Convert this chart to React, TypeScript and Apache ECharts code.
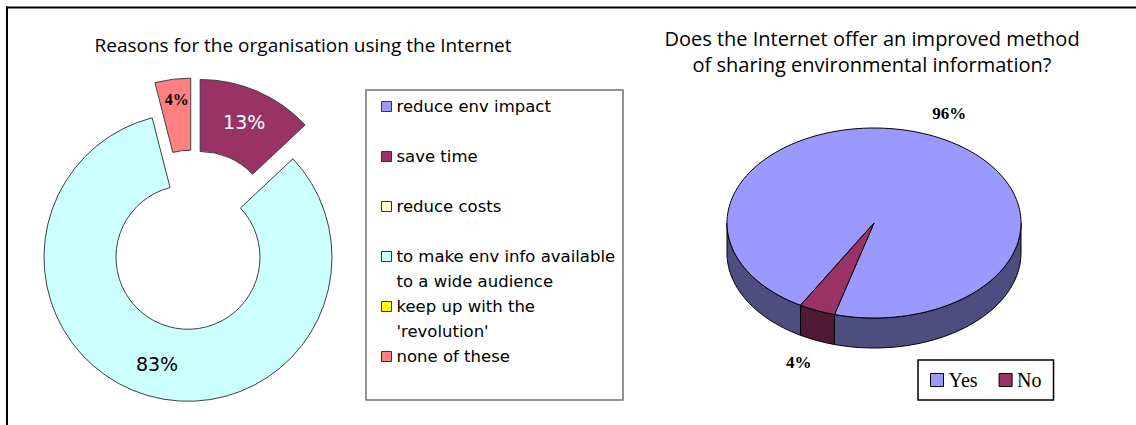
import React, { useEffect, useRef } from 'react';
import * as echarts from 'echarts';

const leftTitle = 'Reasons for the organisation using the Internet';
const rightTitle = ['Does the Internet offer an improved method', 'of sharing environmental information?'];

const reasonNames = [
  'reduce env impact',
  'save time',
  'reduce costs',
  'to make env info available\nto a wide audience',
  "keep up with the\n'revolution'",
  'none of these',
];
const reasonValues = [0, 13, 0, 83, 0, 4];
const reasonColors = ['#9999FF', '#993366', '#FFFFCC', '#CCFFFF', '#FFFF00', '#FF8080'];

const answerNames = ['Yes', 'No'];
const answerValues = [96, 4];
const answerTopColors = ['#9999FF', '#993366'];
const answerSideColors = ['#4D4D80', '#4D1A33'];

// geometry of the pseudo-3D pie
const CX = 874, CY = 223, RX = 147, RY = 95, DEPTH = 30, START = 240;

const labelStyles: any[] = [
  {},
  { color: '#ffffff', fontSize: 19, fontFamily: 'DejaVu Sans' },
  {},
  { color: '#000000', fontSize: 19, fontFamily: 'DejaVu Sans' },
  {},
  {
    color: '#000000', fontSize: 16, fontFamily: 'Liberation Serif', fontWeight: 'bold',
    lineHeight: 26, formatter: '{c}%\n',
  },
];

export default function App() {
  const ref = useRef<HTMLDivElement>(null);
  useEffect(() => {
    if (!ref.current) return;
    const chart = echarts.init(ref.current, undefined, { renderer: 'svg' });

    const total = answerValues.reduce((a, b) => a + b, 0);
    let cum = 0;
    const answerSeries = answerNames.map((name, i) => {
      const before = cum;
      cum += answerValues[i];
      const side = answerSideColors[i];
      return {
        type: 'custom',
        name,
        coordinateSystem: 'none',
        itemStyle: { color: answerTopColors[i] },
        data: [[answerValues[i], before, total]],
        renderItem: (params: any, api: any) => {
          const v = api.value(0), b = api.value(1), t = api.value(2);
          const a0 = START - (b / t) * 360;
          const a1 = START - ((b + v) / t) * 360;
          const pt = (deg: number, dy = 0) => [
            CX + RX * Math.cos((deg * Math.PI) / 180),
            CY - RY * Math.sin((deg * Math.PI) / 180) + dy,
          ];
          const arc = (from: number, to: number, dy = 0) => {
            const n = Math.max(2, Math.ceil(Math.abs(to - from) / 2));
            const pts: number[][] = [];
            for (let k = 0; k <= n; k++) pts.push(pt(from + ((to - from) * k) / n, dy));
            return pts;
          };
          const children: any[] = [];
          for (let k = -2; k <= 2; k++) {
            const lo = Math.max(a1, -180 + 360 * k);
            const hi = Math.min(a0, 360 * k);
            if (hi > lo) {
              children.push({
                type: 'polygon',
                z2: 1,
                shape: { points: [...arc(lo, hi), ...arc(hi, lo, DEPTH)] },
                style: { fill: side, stroke: '#000', lineWidth: 1 },
              });
            }
          }
          children.push({
            type: 'polygon',
            z2: 5,
            shape: { points: [[CX, CY], ...arc(a0, a1)] },
            style: { fill: api.visual('color'), stroke: '#000', lineWidth: 1 },
          });
          const mid = ((a0 + a1) / 2) * Math.PI / 180;
          const s = Math.sin(mid);
          children.push({
            type: 'text',
            z2: 10,
            x: CX + (RX + 47) * Math.cos(mid),
            y: CY - (RY + 24) * s + (s < 0 ? DEPTH : 0),
            style: {
              text: v + '%',
              font: 'bold 17px "Liberation Serif"',
              fill: '#000',
              align: 'center',
              verticalAlign: 'middle',
            },
          });
          return { type: 'group', children };
        },
      };
    });

    const reasonLegends = reasonNames.map((name, i) => {
      const lines = name.split('\n').length;
      const cy = 106.5 + i * 50;
      return {
        data: [name],
        left: 381,
        top: cy - (2 * lines - 1) * 12.5,
        padding: 0,
        icon: 'rect',
        itemWidth: 10,
        itemHeight: 10,
        itemGap: 0,
        selectedMode: false,
        formatter: (n: string) => '\n'.repeat(lines - 1) + n,
        itemStyle: { borderColor: '#333', borderWidth: 1 },
        textStyle: {
          fontFamily: 'DejaVu Sans',
          fontSize: 16.5,
          color: '#000',
          lineHeight: 25,
        },
      };
    });

    const option: any = {
      animation: false,
      backgroundColor: '#ffffff',
      legend: [
        ...reasonLegends,
        {
          data: answerNames,
          left: 918,
          top: 360,
          orient: 'horizontal',
          icon: 'rect',
          itemWidth: 13,
          itemHeight: 13,
          itemGap: 21,
          selectedMode: false,
          borderColor: '#000',
          borderWidth: 1.5,
          padding: [10, 12, 10, 12],
          itemStyle: { borderColor: '#000', borderWidth: 1 },
          textStyle: { fontFamily: 'Liberation Serif', fontSize: 20, color: '#000' },
        },
      ],
      graphic: [
        { type: 'line', shape: { x1: 6, y1: 7.5, x2: 1136, y2: 7.5 }, style: { stroke: '#000', lineWidth: 2 } },
        { type: 'line', shape: { x1: 7, y1: 6.5, x2: 7, y2: 425 }, style: { stroke: '#000', lineWidth: 2 } },
        {
          type: 'rect',
          shape: { x: 366, y: 90, width: 257, height: 310 },
          style: { fill: 'none', stroke: '#707070', lineWidth: 1.5 },
        },
        {
          type: 'text',
          x: 303,
          y: 45,
          style: {
            text: leftTitle,
            font: '19px "Open Sans"',
            fill: '#000',
            align: 'center',
            verticalAlign: 'middle',
          },
        },
        {
          type: 'text',
          x: 872,
          y: 51,
          style: {
            text: rightTitle.join('\n'),
            font: '20px "Open Sans"',
            lineHeight: 26,
            fill: '#000',
            align: 'center',
            verticalAlign: 'middle',
          },
        },
      ],
      series: [
        {
          type: 'pie',
          name: 'reasons',
          center: [193, 240],
          radius: [72, 144],
          startAngle: 90,
          clockwise: true,
          selectedMode: 'multiple',
          selectedOffset: 18,
          avoidLabelOverlap: false,
          labelLine: { show: false },
          emphasis: { disabled: true },
          select: { itemStyle: { borderColor: '#404040', borderWidth: 1 } },
          label: { show: true, position: 'inside', formatter: '{c}%' },
          data: reasonNames.map((name, i) => ({
            name,
            value: reasonValues[i],
            selected: reasonValues[i] > 0,
            itemStyle: {
              color: reasonColors[i],
              borderColor: '#404040',
              borderWidth: reasonValues[i] > 0 ? 1 : 0,
            },
            label: { show: reasonValues[i] > 0, ...labelStyles[i] },
          })),
        },
        ...answerSeries,
      ],
    };
    chart.setOption(option);
    return () => chart.dispose();
  }, []);
  return <div ref={ref} style={{ position: 'fixed', left: 0, top: 0, width: 1136, height: 425 }} />;
}
